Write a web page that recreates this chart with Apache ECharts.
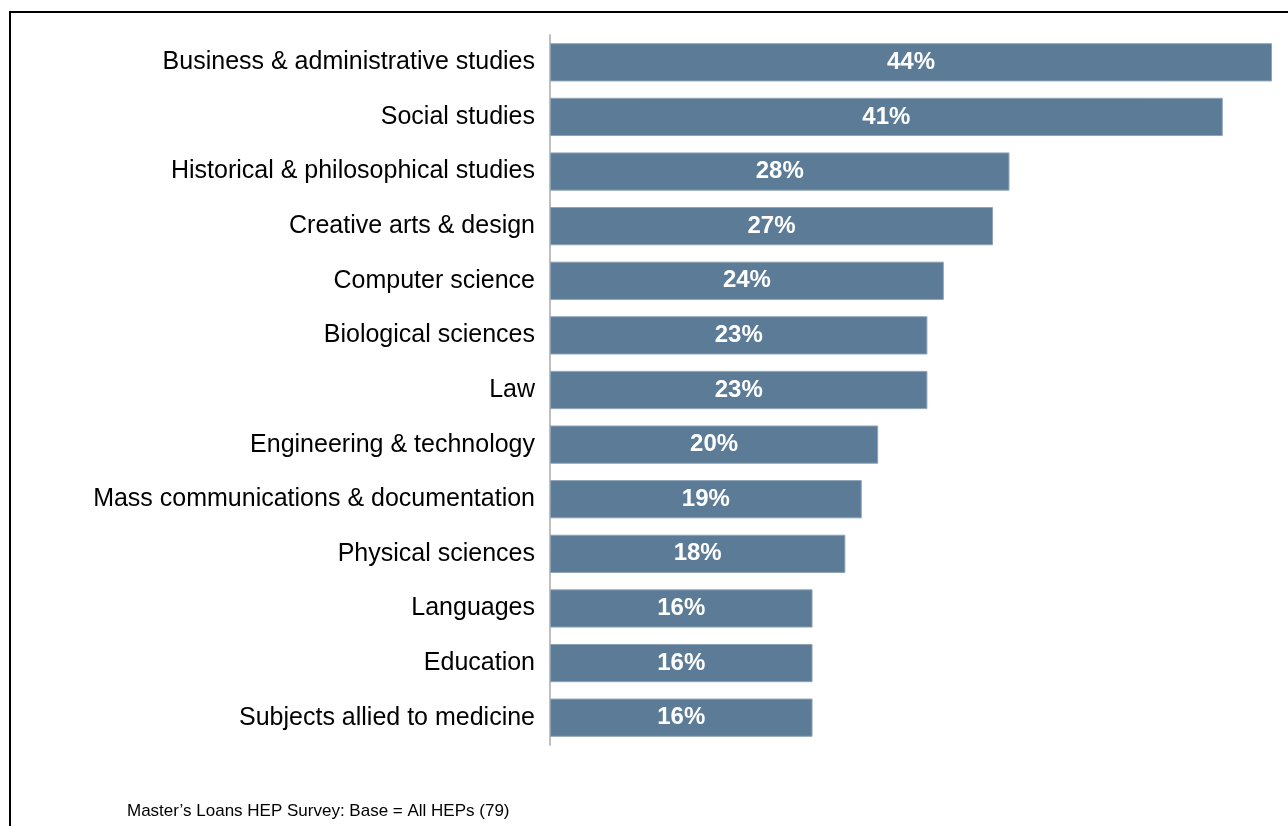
<!DOCTYPE html>
<html>
<head>
<meta charset="utf-8">
<script src="https://cdn.jsdelivr.net/npm/echarts@6/dist/echarts.min.js"></script>
<style>
html,body{margin:0;padding:0;background:#fff;}
#chart{width:1288px;height:826px;}
</style>
</head>
<body>
<div id="chart"></div>
<script>
const categories = [
  "Business & administrative studies",
  "Social studies",
  "Historical & philosophical studies",
  "Creative arts & design",
  "Computer science",
  "Biological sciences",
  "Law",
  "Engineering & technology",
  "Mass communications & documentation",
  "Physical sciences",
  "Languages",
  "Education",
  "Subjects allied to medicine"
];
const values = [44, 41, 28, 27, 24, 23, 23, 20, 19, 18, 16, 16, 16];
const footnote = "Master\u2019s Loans HEP Survey: Base = All HEPs (79)";

const chart = echarts.init(document.getElementById('chart'), null, {renderer: 'canvas'});
const font = '"Liberation Sans", Arial, sans-serif';
chart.setOption({
  animation: false,
  backgroundColor: '#fff',
  grid: {left: 550, top: 35, width: 722, height: 710, containLabel: false},
  xAxis: {
    type: 'value', min: 0, max: 44, show: false
  },
  yAxis: {
    type: 'category',
    data: categories,
    inverse: true,
    axisLine: {show: true, lineStyle: {color: '#bfbfbf', width: 2}},
    axisTick: {show: false},
    axisLabel: {color: '#000', fontSize: 25, fontFamily: font, margin: 15}
  },
  series: [{
    type: 'bar',
    data: values,
    barCategoryGap: '30%',
    itemStyle: {color: '#5b7b97', borderColor: '#8ea3b6', borderWidth: 1},
    label: {
      show: true, position: 'inside', color: '#fff', fontWeight: 'bold',
      fontSize: 24, fontFamily: font, formatter: p => p.value + '%'
    }
  }],
  graphic: [
    {type: 'rect', shape: {x: 10, y: 12, width: 1400, height: 1000},
     style: {fill: 'none', stroke: '#000', lineWidth: 2}, silent: true},
    {type: 'text', left: 127, top: 803,
     style: {text: footnote, fontSize: 17, fontFamily: font, fill: '#000'}}
  ]
});
</script>
</body>
</html>
